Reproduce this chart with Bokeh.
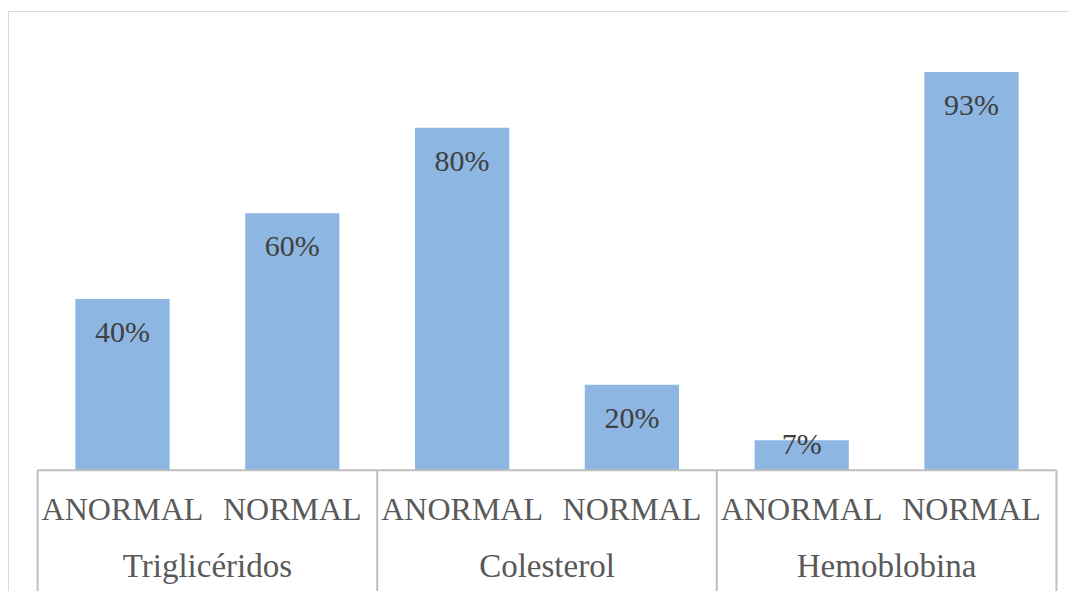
from bokeh.plotting import figure
from bokeh.models import FactorRange, Range1d, ColumnDataSource
from bokeh.core.properties import value
from bokeh.embed import file_html
from bokeh.resources import INLINE

groups = ["Triglicéridos", "Colesterol", "Hemoblobina"]
subs = ["ANORMAL", "NORMAL"]
values = [40, 60, 80, 20, 7, 93]
labels = ["40%", "60%", "80%", "20%", "7%", "93%"]

factors = [(g, s) for g in groups for s in subs]

BAR = "#8DB7E2"
LINE = "#BFBFBF"
FONT = value("Liberation Serif")

Y0, Y1 = -28.54, 106.9

p = figure(
    width=1061, height=580,
    x_range=FactorRange(*factors, range_padding=0.03, range_padding_units="absolute",
                        group_padding=0, factor_padding=0),
    y_range=Range1d(Y0, Y1),
    output_backend="svg", toolbar_location=None,
    x_axis_location=None, y_axis_location=None,
    min_border_left=23, min_border_right=9, min_border_top=0, min_border_bottom=0,
)
p.outline_line_color = None
p.xgrid.visible = False
p.ygrid.visible = False
p.styles = {"border-left": "1px solid #D9D9D9", "border-top": "1px solid #D9D9D9",
            "margin-left": "8px", "margin-top": "11px"}

n = len(factors)
bars = ColumnDataSource(dict(
    x=factors, top=values, lab=labels,
    ly=[max(v - 7.6, 6.32) for v in values],
))
p.vbar(x="x", top="top", bottom=0, width=0.555, source=bars, fill_color=BAR, line_color=None)
p.text(x="x", y="ly", text="lab", source=bars, text_font=FONT, text_font_size="30px",
       text_color="#404040", text_align="center", text_baseline="middle")

# category axis drawn in the plot frame
p.segment(x0=[0], y0=[0], x1=[n], y1=[0], line_color=LINE, line_width=2)
bounds = [i * len(subs) for i in range(len(groups) + 1)]
p.segment(x0=bounds, y0=[0] * len(bounds), x1=bounds, y1=[Y0] * len(bounds),
          line_color=LINE, line_width=2)

sub_src = ColumnDataSource(dict(x=factors, y=[-9.0] * n, t=[f[1] for f in factors]))
p.text(x="x", y="y", text="t", text_font=FONT, source=sub_src,
       text_font_size="32px", text_color="#595959", text_align="center", text_baseline="middle")
grp_src = ColumnDataSource(dict(x=groups, y=[-22.45] * len(groups), t=groups))
p.text(x="x", y="y", text="t", text_font=FONT, source=grp_src,
       text_font_size="33px", text_color="#595959", text_align="center", text_baseline="middle")

open("out.html", "w").write(file_html(p, INLINE))
